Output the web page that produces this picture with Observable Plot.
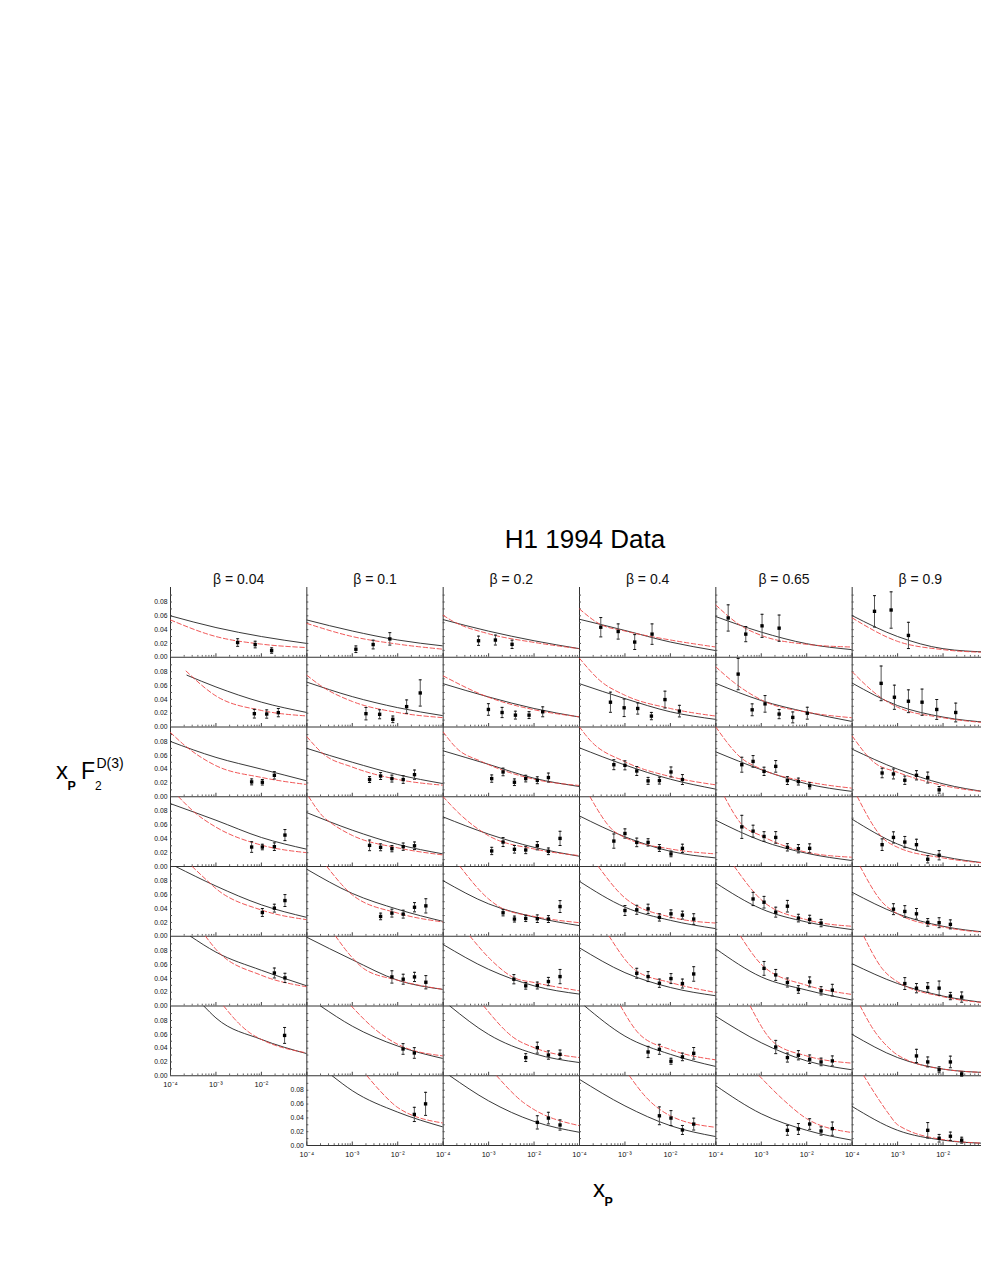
<!DOCTYPE html>
<html><head><meta charset="utf-8">
<script src="https://cdn.jsdelivr.net/npm/d3@7"></script>
<script src="https://cdn.jsdelivr.net/npm/@observablehq/plot@0.6"></script>
<style>
html,body{margin:0;padding:0;background:#fff;overflow:hidden;width:981px;height:1269px}
#labels{position:absolute;left:0;top:0}
#chart{position:absolute;left:0;top:560px;width:990px}
</style></head><body>
<svg id="labels" width="981" height="1269" font-family="'Liberation Sans', Arial, sans-serif" fill="#000">
<text x="585" y="548" font-size="26" text-anchor="middle">H1 1994 Data</text>
<text x="56" y="779" font-size="24">x</text>
<text x="67.5" y="790" font-size="12.5" font-weight="bold">P</text>
<text x="81" y="779" font-size="23">F</text>
<text x="95" y="790" font-size="12">2</text>
<text x="96.5" y="768" font-size="14">D(3)</text>
<text x="593" y="1197" font-size="24">x</text>
<text x="604.5" y="1206" font-size="12.5" font-weight="bold">P</text>
</svg>
<div id="chart"></div>
<script>
const betas = ["0.04", "0.1", "0.2", "0.4", "0.65", "0.9"];
const bins = [1, 2, 3, 4, 5, 6, 7, 8];
const xLabelTicks = [1e-4, 1e-3, 1e-2];
const xMajorTicks = [1e-4, 1e-3, 1e-2, 1e-1];
const xMinorTicks = [2e-4,3e-4,4e-4,5e-4,6e-4,7e-4,8e-4,9e-4,2e-3,3e-3,4e-3,5e-3,6e-3,7e-3,8e-3,9e-3,2e-2,3e-2,4e-2,5e-2,6e-2,7e-2,8e-2,9e-2];
const yLabelTicks = [0, 0.02, 0.04, 0.06, 0.08];
const yMinorTicks = [0.01, 0.02, 0.03, 0.04, 0.05, 0.06, 0.07, 0.08, 0.09];

// measured points: [beta index, bin, xP, xP*F2D3, error]
const measured = [
[0,1,3.0e-3,0.0213,0.0055],[0,1,7.3e-3,0.0184,0.0048],[0,1,1.68e-2,0.0097,0.0039],
[0,2,7.0e-3,0.0193,0.0063],[0,2,1.31e-2,0.0188,0.006],[0,2,2.36e-2,0.0208,0.006],
[0,3,6.1e-3,0.0215,0.0043],[0,3,1.05e-2,0.021,0.004],[0,3,1.93e-2,0.031,0.0053],
[0,4,6.1e-3,0.0282,0.0077],[0,4,1.05e-2,0.0282,0.004],[0,4,1.93e-2,0.0287,0.0055],[0,4,3.3e-2,0.0455,0.008],
[0,5,1.05e-2,0.0344,0.0057],[0,5,1.93e-2,0.0407,0.0057],[0,5,3.3e-2,0.0517,0.0086],
[0,6,1.93e-2,0.0478,0.0072],[0,6,3.3e-2,0.0407,0.0067],
[0,7,3.24e-2,0.0584,0.0115],
[1,1,1.2e-3,0.0116,0.0048],[1,1,2.88e-3,0.0184,0.0063],[1,1,6.7e-3,0.0266,0.009],
[1,2,2.0e-3,0.0193,0.009],[1,2,4.0e-3,0.0184,0.0065],[1,2,7.8e-3,0.0111,0.0048],[1,2,1.57e-2,0.0295,0.0097],[1,2,3.13e-2,0.0493,0.019],
[1,3,2.4e-3,0.0249,0.0043],[1,3,4.2e-3,0.030,0.005],[1,3,7.45e-3,0.0263,0.005],[1,3,1.32e-2,0.0249,0.0055],[1,3,2.34e-2,0.032,0.0067],
[1,4,2.4e-3,0.0306,0.0077],[1,4,4.2e-3,0.0278,0.005],[1,4,7.45e-3,0.0258,0.0045],[1,4,1.32e-2,0.0287,0.0053],[1,4,2.34e-2,0.030,0.0055],
[1,5,4.2e-3,0.0287,0.0048],[1,5,7.45e-3,0.0335,0.0057],[1,5,1.32e-2,0.032,0.0057],[1,5,2.34e-2,0.042,0.0067],[1,5,4.16e-2,0.044,0.0103],
[1,6,7.45e-3,0.0421,0.0089],[1,6,1.32e-2,0.0388,0.0072],[1,6,2.34e-2,0.0421,0.0067],[1,6,4.16e-2,0.0344,0.0096],
[1,7,1.31e-2,0.0388,0.0077],[1,7,2.32e-2,0.033,0.0077],
[1,8,2.32e-2,0.045,0.0103],[1,8,4.1e-2,0.0603,0.0167],
[2,1,6.0e-4,0.0239,0.0067],[2,1,1.41e-3,0.0249,0.0072],[2,1,3.28e-3,0.0187,0.006],
[2,2,9.9e-4,0.0254,0.0084],[2,2,1.98e-3,0.021,0.0074],[2,2,3.89e-3,0.0172,0.0057],[2,2,7.76e-3,0.0172,0.005],[2,2,1.55e-2,0.022,0.0072],
[2,3,1.17e-3,0.0263,0.0053],[2,3,2.08e-3,0.0359,0.0055],[2,3,3.7e-3,0.021,0.0048],[2,3,6.56e-3,0.0263,0.0048],[2,3,1.18e-2,0.0239,0.005],[2,3,2.07e-2,0.0278,0.0065],
[2,4,1.17e-3,0.0225,0.0053],[2,4,2.08e-3,0.0354,0.0065],[2,4,3.7e-3,0.0249,0.0055],[2,4,6.56e-3,0.0239,0.0053],[2,4,1.18e-2,0.0301,0.006],[2,4,2.07e-2,0.022,0.0048],[2,4,3.73e-2,0.0407,0.0103],
[2,5,2.08e-3,0.034,0.0045],[2,5,3.7e-3,0.0249,0.0043],[2,5,6.56e-3,0.0258,0.0045],[2,5,1.18e-2,0.0254,0.0055],[2,5,2.07e-2,0.0249,0.005],[2,5,3.73e-2,0.043,0.0086],
[2,6,3.6e-3,0.0388,0.0067],[2,6,6.56e-3,0.0292,0.0048],[2,6,1.18e-2,0.0297,0.005],[2,6,2.07e-2,0.0354,0.006],[2,6,3.73e-2,0.0426,0.0103],
[2,7,6.56e-3,0.0263,0.0057],[2,7,1.18e-2,0.0407,0.0079],[2,7,2.07e-2,0.030,0.006],[2,7,3.73e-2,0.031,0.0062],
[2,8,1.18e-2,0.0335,0.0096],[2,8,2.07e-2,0.0397,0.0084],[2,8,3.73e-2,0.0297,0.0074],
[3,1,2.94e-4,0.0435,0.014],[3,1,7.1e-4,0.0373,0.011],[3,1,1.64e-3,0.022,0.0108],[3,1,3.95e-3,0.0335,0.0148],
[3,2,4.8e-4,0.0359,0.0146],[3,2,9.6e-4,0.0278,0.0127],[3,2,1.91e-3,0.0268,0.0081],[3,2,3.82e-3,0.0158,0.0053],[3,2,7.6e-3,0.0397,0.0122],[3,2,1.58e-2,0.023,0.0084],
[3,3,5.7e-4,0.0464,0.0072],[3,3,1.0e-3,0.0455,0.0065],[3,3,1.82e-3,0.0373,0.0065],[3,3,3.23e-3,0.023,0.005],[3,3,5.73e-3,0.0234,0.005],[3,3,1.03e-2,0.0359,0.0072],[3,3,1.84e-2,0.0249,0.0072],
[3,4,5.7e-4,0.0368,0.0103],[3,4,1.0e-3,0.0478,0.0067],[3,4,1.82e-3,0.0349,0.0062],[3,4,3.23e-3,0.0349,0.0053],[3,4,5.73e-3,0.0268,0.005],[3,4,1.03e-2,0.0182,0.0041],[3,4,1.84e-2,0.0263,0.006],
[3,5,1.0e-3,0.0373,0.0072],[3,5,1.82e-3,0.0383,0.0065],[3,5,3.23e-3,0.0397,0.0067],[3,5,5.73e-3,0.0273,0.0053],[3,5,1.03e-2,0.0325,0.0057],[3,5,1.84e-2,0.0306,0.0057],[3,5,3.26e-2,0.0249,0.0077],
[3,6,1.82e-3,0.0474,0.0072],[3,6,3.23e-3,0.0426,0.0072],[3,6,5.73e-3,0.033,0.006],[3,6,1.03e-2,0.0397,0.0072],[3,6,1.84e-2,0.0325,0.0065],[3,6,3.26e-2,0.0464,0.0105],
[3,7,3.23e-3,0.0344,0.0081],[3,7,5.73e-3,0.0383,0.0072],[3,7,1.03e-2,0.021,0.0043],[3,7,1.84e-2,0.0273,0.0055],[3,7,3.26e-2,0.0325,0.0084],
[3,8,5.73e-3,0.043,0.0129],[3,8,1.03e-2,0.0397,0.0108],[3,8,1.84e-2,0.0225,0.0065],[3,8,3.26e-2,0.031,0.0086],
[4,1,1.87e-4,0.0569,0.019],[4,1,4.56e-4,0.0335,0.011],[4,1,1.04e-3,0.0455,0.0167],[4,1,2.47e-3,0.0421,0.019],
[4,2,3.1e-4,0.0766,0.0227],[4,2,6.3e-4,0.0249,0.0086],[4,2,1.21e-3,0.0335,0.012],[4,2,2.47e-3,0.0187,0.0067],[4,2,4.93e-3,0.0139,0.0079],[4,2,1.03e-2,0.020,0.0086],
[4,3,3.73e-4,0.0464,0.0108],[4,3,6.6e-4,0.0512,0.0084],[4,3,1.15e-3,0.0368,0.006],[4,3,2.08e-3,0.044,0.0084],[4,3,3.76e-3,0.0234,0.0057],[4,3,6.56e-3,0.022,0.005],[4,3,1.16e-2,0.0158,0.0045],
[4,4,3.73e-4,0.0574,0.0167],[4,4,6.6e-4,0.0512,0.0086],[4,4,1.15e-3,0.0435,0.0069],[4,4,2.08e-3,0.0421,0.0084],[4,4,3.76e-3,0.0278,0.0053],[4,4,6.56e-3,0.0258,0.006],[4,4,1.16e-2,0.0263,0.0065],
[4,5,6.6e-4,0.054,0.0096],[4,5,1.15e-3,0.0493,0.0084],[4,5,2.08e-3,0.0349,0.0072],[4,5,3.76e-3,0.0435,0.0084],[4,5,6.56e-3,0.0263,0.0055],[4,5,1.16e-2,0.0244,0.006],[4,5,2.07e-2,0.0191,0.0053],
[4,6,1.15e-3,0.0545,0.01],[4,6,2.08e-3,0.045,0.0079],[4,6,3.76e-3,0.034,0.0065],[4,6,6.56e-3,0.0239,0.0055],[4,6,1.16e-2,0.0349,0.0072],[4,6,2.07e-2,0.022,0.006],[4,6,3.66e-2,0.023,0.0084],
[4,7,2.08e-3,0.0416,0.0096],[4,7,3.76e-3,0.0263,0.0065],[4,7,6.56e-3,0.0297,0.0067],[4,7,1.16e-2,0.0239,0.0062],[4,7,2.07e-2,0.020,0.0055],[4,7,3.66e-2,0.0215,0.0072],
[4,8,3.76e-3,0.022,0.0072],[4,8,6.56e-3,0.0239,0.0079],[4,8,1.16e-2,0.0311,0.0077],[4,8,2.07e-2,0.021,0.006],[4,8,3.66e-2,0.0244,0.0096],
[5,1,3.1e-4,0.0665,0.0227],[5,1,7.2e-4,0.0684,0.0263],[5,1,1.73e-3,0.0316,0.019],
[5,2,4.34e-4,0.0632,0.0251],[5,2,8.5e-4,0.0431,0.0175],[5,2,1.73e-3,0.0373,0.0165],[5,2,3.45e-3,0.0359,0.019],[5,2,7.26e-3,0.0254,0.0144],[5,2,1.9e-2,0.021,0.0136],
[5,3,4.56e-4,0.0344,0.0069],[5,3,8.1e-4,0.033,0.0072],[5,3,1.44e-3,0.0239,0.006],[5,3,2.6e-3,0.0311,0.0067],[5,3,4.6e-3,0.0278,0.0079],[5,3,8.2e-3,0.010,0.0048],
[5,4,4.56e-4,0.0316,0.0084],[5,4,8.1e-4,0.0421,0.0081],[5,4,1.44e-3,0.0354,0.0081],[5,4,2.6e-3,0.0316,0.0079],[5,4,4.6e-3,0.0105,0.0053],[5,4,8.2e-3,0.0163,0.0067],
[5,5,8.1e-4,0.0392,0.0079],[5,5,1.44e-3,0.0359,0.0084],[5,5,2.6e-3,0.0325,0.0077],[5,5,4.6e-3,0.0201,0.0055],[5,5,8.2e-3,0.0196,0.0072],[5,5,1.45e-2,0.0172,0.0065],
[5,6,1.44e-3,0.0325,0.0086],[5,6,2.6e-3,0.0258,0.0067],[5,6,4.6e-3,0.0268,0.0069],[5,6,8.2e-3,0.0258,0.0103],[5,6,1.45e-2,0.0144,0.0053],[5,6,2.57e-2,0.0129,0.0074],
[5,7,2.6e-3,0.0287,0.0096],[5,7,4.6e-3,0.020,0.0072],[5,7,8.2e-3,0.0086,0.0043],[5,7,1.45e-2,0.020,0.0084],[5,7,2.57e-2,0.0024,0.003],
[5,8,4.6e-3,0.022,0.0112],[5,8,8.2e-3,0.0105,0.0055],[5,8,1.45e-2,0.0134,0.006],[5,8,2.57e-2,0.0077,0.0043]
];

// solid model curve samples: [beta index, bin, xP, value]
const fitSolid = [
[0,1,1e-4,0.060],[0,1,1e-3,0.043],[0,1,1e-2,0.030],[0,1,1e-1,0.020],
[0,2,2.3e-4,0.075],[0,2,1e-3,0.058],[0,2,1e-2,0.036],[0,2,1e-1,0.021],
[0,3,1e-4,0.080],[0,3,1e-3,0.057],[0,3,1e-2,0.040],[0,3,1e-1,0.023],
[0,4,1e-4,0.091],[0,4,1e-3,0.067],[0,4,1e-2,0.042],[0,4,1e-1,0.025],
[0,5,1.3e-4,0.101],[0,5,1e-3,0.0727],[0,5,1e-2,0.0455],[0,5,1e-1,0.0273],
[0,6,2.75e-4,0.101],[0,6,1e-3,0.078],[0,6,1e-2,0.0517],[0,6,1e-1,0.0292],
[0,7,5.4e-4,0.101],[0,7,1e-3,0.0837],[0,7,1e-2,0.0526],[0,7,1e-1,0.032],
[1,1,1e-4,0.054],[1,1,1e-3,0.038],[1,1,1e-2,0.025],[1,1,1e-1,0.0164],
[1,2,1e-4,0.065],[1,2,1e-3,0.044],[1,2,1e-2,0.028],[1,2,1e-1,0.0164],
[1,3,1e-4,0.070],[1,3,1e-3,0.050],[1,3,1e-2,0.032],[1,3,1e-1,0.019],
[1,4,1e-4,0.078],[1,4,1e-3,0.0526],[1,4,1e-2,0.032],[1,4,1e-1,0.0182],
[1,5,1e-4,0.097],[1,5,1e-3,0.062],[1,5,1e-2,0.039],[1,5,1e-1,0.0215],
[1,6,1e-4,0.0995],[1,6,1e-3,0.067],[1,6,1e-2,0.0373],[1,6,1e-1,0.024],
[1,7,2e-4,0.101],[1,7,1e-3,0.0718],[1,7,1e-2,0.043],[1,7,1e-1,0.0249],
[1,8,3.6e-4,0.101],[1,8,1e-3,0.0794],[1,8,1e-2,0.0483],[1,8,1e-1,0.0268],
[2,1,1e-4,0.0545],[2,1,1e-3,0.0378],[2,1,1e-2,0.0239],[2,1,1e-1,0.0124],
[2,2,1e-4,0.0627],[2,2,1e-3,0.0435],[2,2,1e-2,0.0268],[2,2,1e-1,0.0144],
[2,3,1e-4,0.0665],[2,3,1e-3,0.0469],[2,3,1e-2,0.0268],[2,3,1e-1,0.0148],
[2,4,1e-4,0.0718],[2,4,1e-3,0.0469],[2,4,1e-2,0.0278],[2,4,1e-1,0.0148],
[2,5,1e-4,0.0804],[2,5,1e-3,0.0469],[2,5,1e-2,0.0278],[2,5,1e-1,0.0153],
[2,6,1e-4,0.089],[2,6,1e-3,0.0531],[2,6,1e-2,0.0292],[2,6,1e-1,0.0172],
[2,7,1.4e-4,0.101],[2,7,1e-3,0.0598],[2,7,1e-2,0.032],[2,7,1e-1,0.0191],
[2,8,1.4e-4,0.101],[2,8,1e-3,0.0646],[2,8,1e-2,0.0349],[2,8,1e-1,0.0191],
[3,1,1e-4,0.055],[3,1,1e-3,0.0388],[3,1,1e-2,0.022],[3,1,1e-1,0.0096],
[3,2,1e-4,0.0627],[3,2,1e-3,0.0411],[3,2,1e-2,0.022],[3,2,1e-1,0.011],
[3,3,1e-4,0.0708],[3,3,1e-3,0.046],[3,3,1e-2,0.0254],[3,3,1e-1,0.011],
[3,4,1e-4,0.0732],[3,4,1e-3,0.043],[3,4,1e-2,0.022],[3,4,1e-1,0.0124],
[3,5,1e-4,0.0794],[3,5,1e-3,0.0421],[3,5,1e-2,0.023],[3,5,1e-1,0.011],
[3,6,1e-4,0.0842],[3,6,1e-3,0.0483],[3,6,1e-2,0.0268],[3,6,1e-1,0.0148],
[3,7,1.3e-4,0.101],[3,7,1e-3,0.0574],[3,7,1e-2,0.031],[3,7,1e-1,0.0134],
[3,8,1e-4,0.0957],[3,8,1e-3,0.0574],[3,8,1e-2,0.0287],[3,8,1e-1,0.0129],
[4,1,1e-4,0.0589],[4,1,1e-3,0.0364],[4,1,1e-2,0.0196],[4,1,1e-1,0.011],
[4,2,1e-4,0.0632],[4,2,1e-3,0.0383],[4,2,1e-2,0.0215],[4,2,1e-1,0.008],
[4,3,1e-4,0.065],[4,3,1e-3,0.0392],[4,3,1e-2,0.0187],[4,3,1e-1,0.0077],
[4,4,1e-4,0.067],[4,4,1e-3,0.0373],[4,4,1e-2,0.0191],[4,4,1e-1,0.0086],
[4,5,1e-4,0.077],[4,5,1e-3,0.0397],[4,5,1e-2,0.0206],[4,5,1e-1,0.0096],
[4,6,1e-4,0.0828],[4,6,1e-3,0.0421],[4,6,1e-2,0.023],[4,6,1e-1,0.0086],
[4,7,1e-4,0.0861],[4,7,1e-3,0.0478],[4,7,1e-2,0.0215],[4,7,1e-1,0.0086],
[4,8,1e-4,0.0866],[4,8,1e-3,0.0459],[4,8,1e-2,0.022],[4,8,1e-1,0.0077],
[5,1,1e-4,0.0603],[5,1,1e-3,0.030],[5,1,1e-2,0.0124],[5,1,1e-1,0.0075],
[5,2,1e-4,0.0636],[5,2,1e-3,0.031],[5,2,1e-2,0.0144],[5,2,1e-1,0.0065],
[5,3,1e-4,0.0689],[5,3,1e-3,0.040],[5,3,1e-2,0.0187],[5,3,1e-1,0.0065],
[5,4,1e-4,0.0684],[5,4,1e-3,0.0325],[5,4,1e-2,0.0144],[5,4,1e-1,0.0045],
[5,5,1e-4,0.0636],[5,5,1e-3,0.0325],[5,5,1e-2,0.0144],[5,5,1e-1,0.0055],
[5,6,1e-4,0.0612],[5,6,1e-3,0.0325],[5,6,1e-2,0.0144],[5,6,1e-1,0.0042],
[5,7,1e-4,0.0598],[5,7,1e-3,0.0263],[5,7,1e-2,0.0096],[5,7,1e-1,0.0045],
[5,8,1e-4,0.0565],[5,8,1e-3,0.022],[5,8,1e-2,0.0077],[5,8,1e-1,0.003]
];

// dashed model curve samples: [beta index, bin, xP, value]
const fitDashed = [
[0,1,1e-4,0.054],[0,1,1e-3,0.030],[0,1,1e-2,0.019],[0,1,1e-1,0.014],
[0,2,2.2e-4,0.081],[0,2,1e-3,0.045],[0,2,1e-2,0.024],[0,2,1e-1,0.016],
[0,3,1e-4,0.093],[0,3,2e-4,0.075],[0,3,1e-3,0.045],[0,3,1e-2,0.028],[0,3,1e-1,0.0177],
[0,4,1.5e-4,0.101],[0,4,3.3e-4,0.079],[0,4,1e-3,0.057],[0,4,1e-2,0.031],[0,4,1e-1,0.020],
[0,5,3e-4,0.101],[0,5,6.3e-4,0.081],[0,5,1e-3,0.069],[0,5,1e-2,0.038],[0,5,1e-1,0.024],
[0,6,5.9e-4,0.101],[0,6,1e-3,0.082],[0,6,1e-2,0.0445],[0,6,1e-1,0.0278],
[0,7,1.48e-3,0.101],[0,7,3.4e-3,0.074],[0,7,5.6e-3,0.062],[0,7,1e-2,0.0526],[0,7,1e-1,0.033],
[1,1,1e-4,0.049],[1,1,1e-3,0.030],[1,1,1e-2,0.019],[1,1,1e-1,0.0116],
[1,2,1e-4,0.075],[1,2,2e-4,0.060],[1,2,1e-3,0.037],[1,2,1e-2,0.021],[1,2,1e-1,0.0135],
[1,3,1e-4,0.087],[1,3,2.3e-4,0.062],[1,3,1e-3,0.043],[1,3,1e-2,0.025],[1,3,1e-1,0.0167],
[1,4,1.1e-4,0.101],[1,4,2.3e-4,0.072],[1,4,3.6e-4,0.062],[1,4,1e-3,0.045],[1,4,1e-2,0.027],[1,4,1e-1,0.0167],
[1,5,2.75e-4,0.101],[1,5,1e-3,0.060],[1,5,1e-2,0.0335],[1,5,1e-1,0.0206],
[1,6,4.3e-4,0.101],[1,6,1e-3,0.070],[1,6,1.8e-3,0.054],[1,6,1e-2,0.0373],[1,6,1e-1,0.024],
[1,7,9.5e-4,0.101],[1,7,2.95e-3,0.069],[1,7,1e-2,0.0455],[1,7,1e-1,0.0287],
[1,8,2.1e-3,0.101],[1,8,4.1e-3,0.079],[1,8,1e-2,0.055],[1,8,1e-1,0.0325],
[2,1,1e-4,0.0608],[2,1,1.55e-4,0.053],[2,1,1e-3,0.034],[2,1,1e-2,0.0215],[2,1,1e-1,0.0124],
[2,2,1e-4,0.074],[2,2,1e-3,0.043],[2,2,1e-2,0.025],[2,2,1e-1,0.0148],
[2,3,1e-4,0.0938],[2,3,2e-4,0.070],[2,3,7e-4,0.051],[2,3,1e-2,0.0254],[2,3,1e-1,0.0163],
[2,4,1e-4,0.101],[2,4,2.35e-4,0.0756],[2,4,1e-3,0.0445],[2,4,1e-2,0.0254],[2,4,1e-1,0.0158],
[2,5,2.35e-4,0.101],[2,5,1e-3,0.054],[2,5,1.95e-3,0.0407],[2,5,1e-2,0.0287],[2,5,1e-1,0.0196],
[2,6,3.9e-4,0.101],[2,6,1.1e-3,0.0675],[2,6,3.6e-3,0.041],[2,6,1e-2,0.034],[2,6,1e-1,0.022],
[2,7,7.8e-4,0.101],[2,7,3.6e-3,0.055],[2,7,1e-2,0.0407],[2,7,1e-1,0.0263],
[2,8,1.5e-3,0.101],[2,8,5.9e-3,0.062],[2,8,1e-2,0.052],[2,8,1e-1,0.0287],
[3,1,1e-4,0.0699],[3,1,2.8e-4,0.048],[3,1,1e-3,0.038],[3,1,1e-2,0.025],[3,1,1e-1,0.0148],
[3,2,1e-4,0.0995],[3,2,2.85e-4,0.067],[3,2,1e-3,0.046],[3,2,1e-2,0.0268],[3,2,1e-1,0.0158],
[3,3,1e-4,0.101],[3,3,1.7e-4,0.082],[3,3,1e-3,0.0507],[3,3,1e-2,0.0292],[3,3,1e-1,0.0172],
[3,4,1.7e-4,0.101],[3,4,5.6e-4,0.0517],[3,4,1e-3,0.042],[3,4,1e-2,0.0254],[3,4,1e-1,0.0182],
[3,5,2.6e-4,0.101],[3,5,1e-3,0.0555],[3,5,1e-2,0.0278],[3,5,1e-1,0.0191],
[3,6,4.5e-4,0.101],[3,6,1.8e-3,0.0507],[3,6,1e-2,0.034],[3,6,1e-1,0.0196],
[3,7,8e-4,0.101],[3,7,2.1e-3,0.060],[3,7,1e-2,0.038],[3,7,1e-1,0.023],
[3,8,1.25e-3,0.101],[3,8,3e-3,0.069],[3,8,1e-2,0.043],[3,8,1e-1,0.0263],
[4,1,1e-4,0.0756],[4,1,3.5e-4,0.046],[4,1,1e-3,0.0316],[4,1,1e-2,0.0187],[4,1,1e-1,0.0148],
[4,2,1e-4,0.087],[4,2,2.5e-4,0.0645],[4,2,1.2e-3,0.0368],[4,2,1e-2,0.0215],[4,2,1e-1,0.0134],
[4,3,1e-4,0.101],[4,3,3.5e-4,0.057],[4,3,1e-3,0.040],[4,3,1e-2,0.022],[4,3,1e-1,0.0124],
[4,4,1.55e-4,0.101],[4,4,3.7e-4,0.061],[4,4,1e-3,0.0445],[4,4,1e-2,0.0206],[4,4,1e-1,0.0134],
[4,5,2.55e-4,0.101],[4,5,1.15e-3,0.0493],[4,5,1e-2,0.0239],[4,5,1e-1,0.0144],
[4,6,3.5e-4,0.101],[4,6,1.15e-3,0.0565],[4,6,1e-2,0.030],[4,6,1e-1,0.0167],
[4,7,5.7e-4,0.101],[4,7,1.9e-3,0.048],[4,7,1e-2,0.0287],[4,7,1e-1,0.0182],
[4,8,9e-4,0.101],[4,8,3.2e-3,0.065],[4,8,1e-2,0.0388],[4,8,1e-1,0.0187],
[5,1,1e-4,0.057],[5,1,1e-3,0.023],[5,1,1e-2,0.011],[5,1,1e-1,0.0070],
[5,2,1e-4,0.080],[5,2,4.2e-4,0.043],[5,2,1e-3,0.0287],[5,2,1e-2,0.0134],[5,2,1e-1,0.0058],
[5,3,1e-4,0.088],[5,3,3e-4,0.050],[5,3,1e-3,0.0354],[5,3,1e-2,0.0163],[5,3,1e-1,0.0065],
[5,4,1.3e-4,0.101],[5,4,4.6e-4,0.042],[5,4,1e-3,0.0278],[5,4,1e-2,0.0124],[5,4,1e-1,0.0045],
[5,5,1.5e-4,0.101],[5,5,4.6e-4,0.0493],[5,5,1e-3,0.0325],[5,5,1e-2,0.0134],[5,5,1e-1,0.005],
[5,6,1.8e-4,0.101],[5,6,4.6e-4,0.054],[5,6,1e-3,0.035],[5,6,1e-2,0.0134],[5,6,1e-1,0.0042],
[5,7,1.5e-4,0.101],[5,7,3e-4,0.066],[5,7,6.5e-4,0.040],[5,7,1e-3,0.030],[5,7,1e-2,0.0096],[5,7,1e-1,0.0045],
[5,8,1.8e-4,0.101],[5,8,4e-4,0.065],[5,8,6.5e-4,0.045],[5,8,1e-3,0.030],[5,8,1e-2,0.0085],[5,8,1e-1,0.003]
];

const pts = measured.map(([b, q, x, y, e]) => ({beta: betas[b], bin: q, x, y, e}));
const solid = fitSolid.map(([b, q, x, y]) => ({beta: betas[b], bin: q, x, y}));
const dashed = fitDashed.map(([b, q, x, y]) => ({beta: betas[b], bin: q, x, y}));
const panels = Array.from(new Set(fitSolid.map(d => d[0] + "|" + d[1])))
  .map(k => { const [b, q] = k.split("|").map(Number); return {beta: betas[b], bin: q}; });

const supDigits = "⁰¹²³⁴⁵⁶⁷⁸⁹";
const sup = d => "10" + String(Math.round(Math.log10(d))).replace("-", "⁻").replace(/\d/g, c => supDigits[+c]);
const cap = {draw(ctx, size) { const w = Math.sqrt(size / Math.PI); ctx.moveTo(-w, 0); ctx.lineTo(w, 0); }};
const F = {fx: "beta", fy: "bin"};

const chart = Plot.plot({
  width: 990, height: 605,
  marginTop: 27, marginBottom: 20, marginLeft: 170, marginRight: 2,
  style: {fontFamily: "'Liberation Sans', Arial, sans-serif", background: "transparent", maxWidth: "none", overflow: "visible", color: "#111"},
  x: {type: "log", domain: [1e-4, 1e-1]},
  y: {domain: [0, 0.101]},
  fx: {domain: betas, padding: 0, round: false},
  fy: {domain: bins, padding: 0, round: false, axis: null},
  marks: [
    Plot.ruleY(panels, {...F, y: () => 0, stroke: "#333", strokeWidth: 1}),
    Plot.ruleX(panels, {...F, x: () => 1e-4, stroke: "#333", strokeWidth: 1}),
    Plot.axisX({ticks: xMinorTicks, tickSize: -1.8, tickFormat: () => "", label: null, facetAnchor: null, stroke: "#666"}),
    Plot.axisX({ticks: xMajorTicks, tickSize: -3.5, tickFormat: () => "", label: null, facetAnchor: null, stroke: "#444"}),
    Plot.axisY({ticks: yMinorTicks, tickSize: -2, tickFormat: () => "", label: null, facetAnchor: null, stroke: "#555"}),
    Plot.axisX({ticks: xLabelTicks, tickSize: 0, tickPadding: 6, tickFormat: sup, fontSize: 7.5, label: null, facetAnchor: "bottom-empty"}),
    Plot.axisY({ticks: yLabelTicks, tickSize: 0, tickPadding: 3, tickFormat: d3.format(".2f"), fontSize: 6.8, label: null, facetAnchor: "left-empty"}),
    Plot.axisFx({anchor: "top", tickSize: 0, tickPadding: 4, fontSize: 14, tickFormat: d => `β = ${d}`, label: null}),
    Plot.line(solid, {...F, x: "x", y: "y", curve: "monotone-x", stroke: "#222", strokeWidth: 0.9, clip: true}),
    Plot.line(dashed, {...F, x: "x", y: "y", curve: "monotone-x", stroke: "#ee4444", strokeWidth: 0.9, strokeDasharray: "4.5,2.5", clip: true}),
    Plot.ruleX(pts, {...F, x: "x", y1: d => d.y - d.e, y2: d => d.y + d.e, stroke: "#555", strokeWidth: 1}),
    Plot.dot(pts, {...F, x: "x", y: d => d.y - d.e, symbol: cap, r: 1.5, stroke: "#111", fill: "none", strokeWidth: 1}),
    Plot.dot(pts, {...F, x: "x", y: d => d.y + d.e, symbol: cap, r: 1.5, stroke: "#111", fill: "none", strokeWidth: 1}),
    Plot.dot(pts, {...F, x: "x", y: "y", symbol: "square", r: 1.9, fill: "#000", stroke: "none"})
  ]
});
document.getElementById("chart").appendChild(chart);
</script>
</body></html>
